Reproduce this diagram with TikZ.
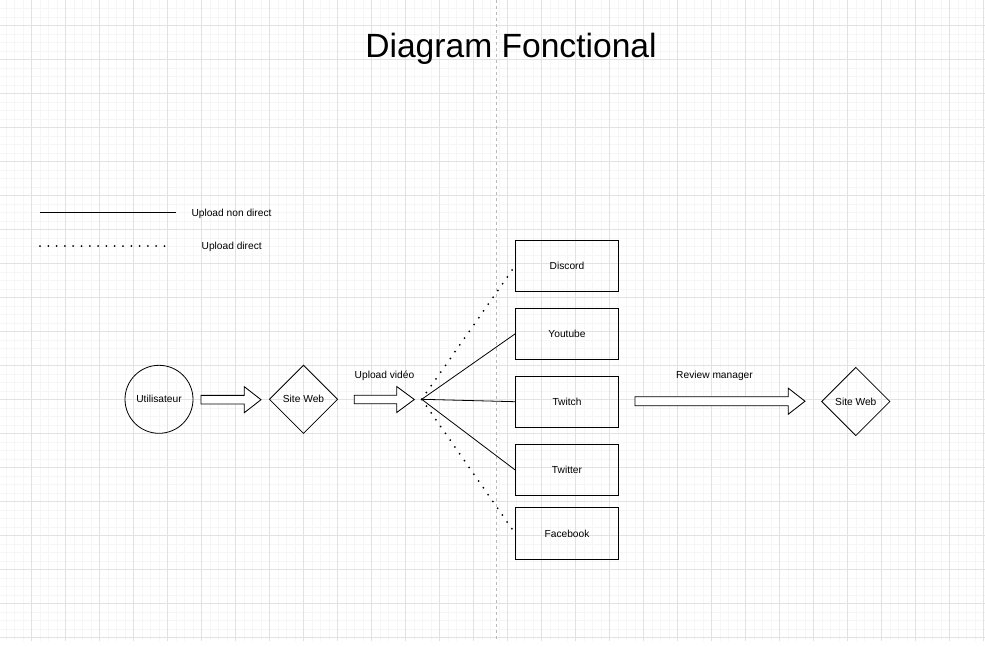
\documentclass[tikz,border=0pt]{standalone}
\usepackage{fontspec}
\setmainfont{Liberation Sans}
\usetikzlibrary{shapes.geometric}
\definecolor{gridminor}{RGB}{246,246,246}
\definecolor{gridmajor}{RGB}{226,226,226}
\definecolor{guide}{RGB}{185,185,185}
\newcommand\hollowarrow[5]{%
  \draw[barrow] (#1,#4-#5) -- (#3,#4-#5) -- (#3,#4-13) -- (#2,#4) -- (#3,#4+13) -- (#3,#4+#5) -- (#1,#4+#5) -- cycle;}
\begin{document}
\begin{tikzpicture}[x=1pt,y=-1pt,
  txt/.style={font=\fontsize{10.2}{12}\selectfont, text height=7.3pt, text depth=0pt, inner sep=0pt},
  platform/.style={txt, draw, line width=0.9pt, minimum width=102.7pt, minimum height=51.3pt},
  site/.style={txt, draw, diamond, line width=0.85pt, minimum width=68.5pt, minimum height=68.5pt, aspect=1},
  actor/.style={txt, draw, circle, line width=0.8pt, minimum size=68pt},
  barrow/.style={draw, line width=0.85pt, fill=white, line join=miter},
  link/.style={line width=0.8pt},
  dotlink/.style={line width=2pt, line cap=round, dash pattern=on 0pt off 8.3pt}
]
\useasboundingbox (0,0) rectangle (985,646);
\fill[white] (0,0) rectangle (985,646);
% grid
\foreach \x in {5.8,14.3,...,985} \draw[gridminor, line width=0.6pt] (\x,0) -- (\x,641);
\foreach \y in {8.3,16.8,...,641} \draw[gridminor, line width=0.6pt] (0,\y) -- (985,\y);
\foreach \x in {31.3,65.3,...,985} \draw[gridmajor, line width=0.7pt] (\x,0) -- (\x,641);
\foreach \y in {25.3,59.3,...,641} \draw[gridmajor, line width=0.7pt] (0,\y) -- (985,\y);
\draw[guide, line width=0.7pt, dash pattern=on 3pt off 3pt] (496.7,0) -- (496.7,641);

% title
\node[font=\fontsize{33.6}{36}\selectfont, text height=24pt, text depth=0pt, inner sep=0pt] (title) at (511,45.9) {Diagram Fonctional};

% legend
\coordinate (l1a) at (40,212.7);
\coordinate (l1b) at (176,212.7);
\coordinate (l2a) at (40,246);
\coordinate (l2b) at (172,246);
\draw[link] (l1a) -- (l1b);
\draw[dotlink] (l2a) -- (l2b);
\node[txt] (leg1) at (231.5,212.8) {Upload non direct};
\node[txt] (leg2) at (231.7,246.2) {Upload direct};

% nodes
\node[actor] (user) at (159,399.3) {Utilisateur};
\node[site] (web1) at (303.5,399.3) {Site Web};
\node[platform] (discord) at (567,265.7) {Discord};
\node[platform] (youtube) at (567,333.8) {Youtube};
\node[platform] (twitch) at (567,401.7) {Twitch};
\node[platform] (twitter) at (567,470) {Twitter};
\node[platform] (facebook) at (567,533.5) {Facebook};
\node[site] (web2) at (855.8,401.5) {Site Web};

% block arrows
\hollowarrow{201}{261}{244.3}{399.7}{4.3}
\hollowarrow{354.3}{414.3}{396.7}{399.5}{4.3}
\hollowarrow{635}{805}{788.3}{401.2}{4.5}
\node[txt] (lblup) at (384.5,375) {Upload vidéo};
\node[txt] (lblrev) at (714.5,375) {Review manager};

% fan
\coordinate (fan) at (421.7,399.3);
\draw[link] (fan) -- (youtube.west);
\draw[link] (fan) -- (twitch.west);
\draw[link] (fan) -- (twitter.west);
\draw[dotlink, shorten >=3pt] (fan) -- (discord.west);
\draw[dotlink, shorten >=3pt] (fan) -- (facebook.west);
\end{tikzpicture}
\end{document}
